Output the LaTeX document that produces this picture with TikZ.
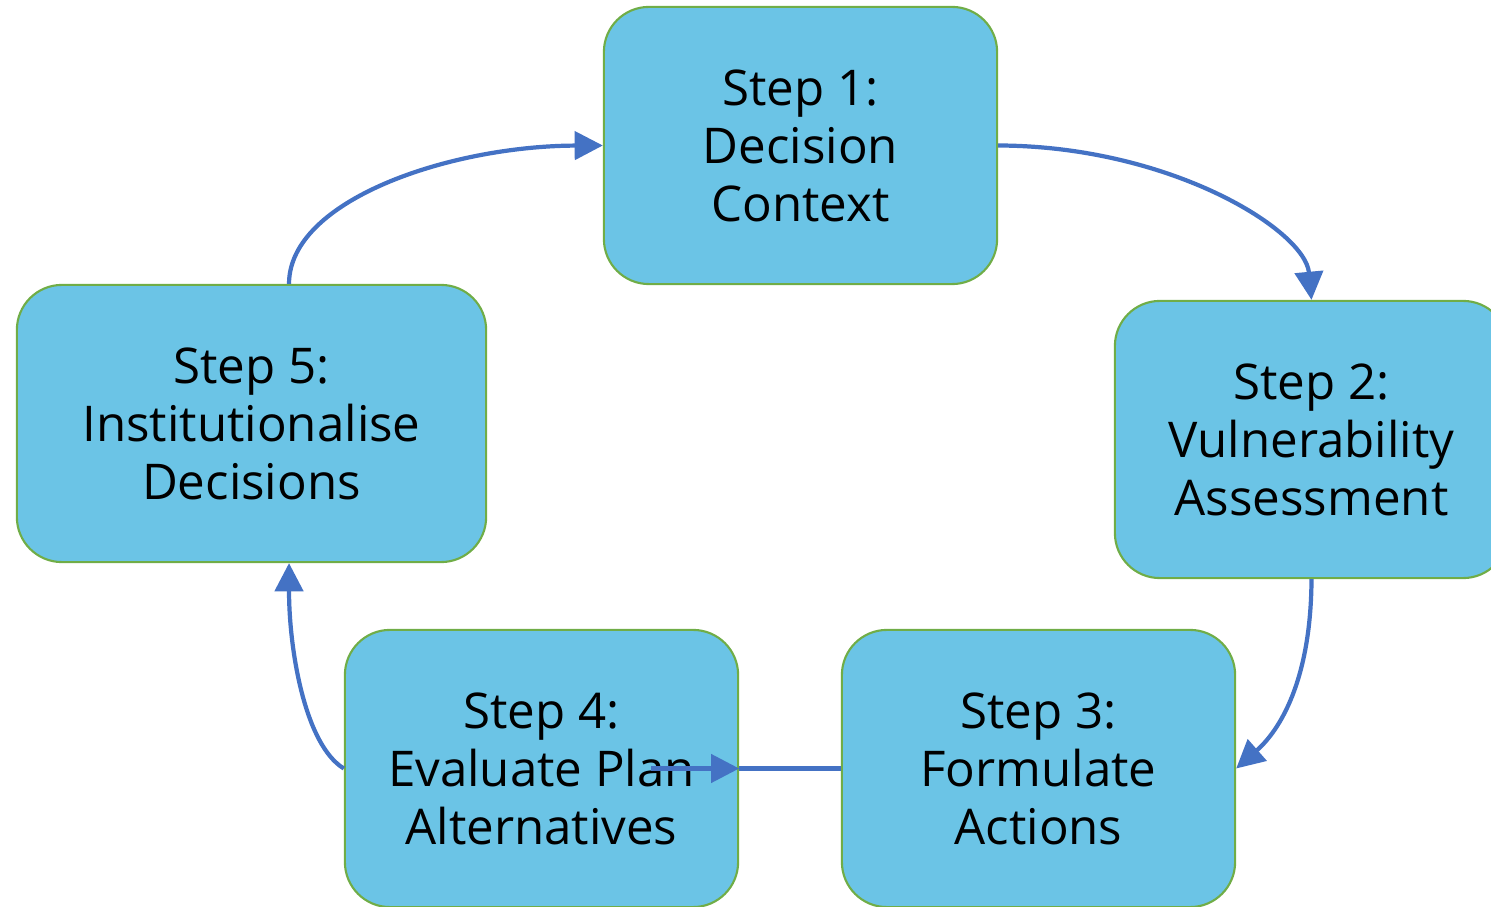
\documentclass[tikz,border=0pt]{standalone}
\usepackage{fontspec}
\setmainfont{Open Sans}
\usepackage{tikz}
\usetikzlibrary{arrows.meta}
\definecolor{boxblue}{RGB}{107,196,230}
\definecolor{boxgreen}{RGB}{112,173,71}
\definecolor{flowblue}{RGB}{68,114,196}
\tikzset{
  stepbox/.style={rectangle, rounded corners=0.45cm, fill=boxblue, draw=boxgreen, line width=0.6pt,
    minimum width=3.93cm, minimum height=2.77cm, inner sep=0pt, align=center,
    font=\fontsize{14}{16.5}\selectfont},
  flowline/.style={flowblue, line width=1.2pt},
  flow/.style={flowline, -{Triangle[length=8pt, width=8pt]}}
}
\begin{document}
\begin{tikzpicture}[x=0.01cm, y=-0.01cm]
\clip (0,0) rectangle (1491,907);
\node[stepbox] (s1) at (800.5,145.5) {Step 1:\\Decision\\Context};
\node[stepbox] (s2) at (1311.5,439.5) {Step 2:\\Vulnerability\\Assessment};
\node[stepbox] (s3) at (1038.5,768.5) {Step 3:\\Formulate\\Actions};
\node[stepbox] (s4) at (541.5,768.5) {Step 4:\\Evaluate Plan\\Alternatives};
\node[stepbox, minimum width=4.69cm] (s5) at (251.5,423.5) {Step 5:\\Institutionalise\\Decisions};
\draw[flow] (s1.east) .. controls (1170,146) and (1305,230) .. (s2.north);
\draw[flow] (s2.south) .. controls (1311,680) and (1280,730) .. (s3.east);
\draw[flow] ([xshift=-0.88cm]s4.east) -- (s4.east);
\draw[flowline] (s4.east) -- (s3.west);
\draw[flow] (s4.west) .. controls (305,745) and (289,650) .. ([xshift=0.375cm]s5.south);
\draw[flow] ([xshift=0.375cm]s5.north) .. controls (289,200) and (450,146) .. (s1.west);
\end{tikzpicture}
\end{document}
